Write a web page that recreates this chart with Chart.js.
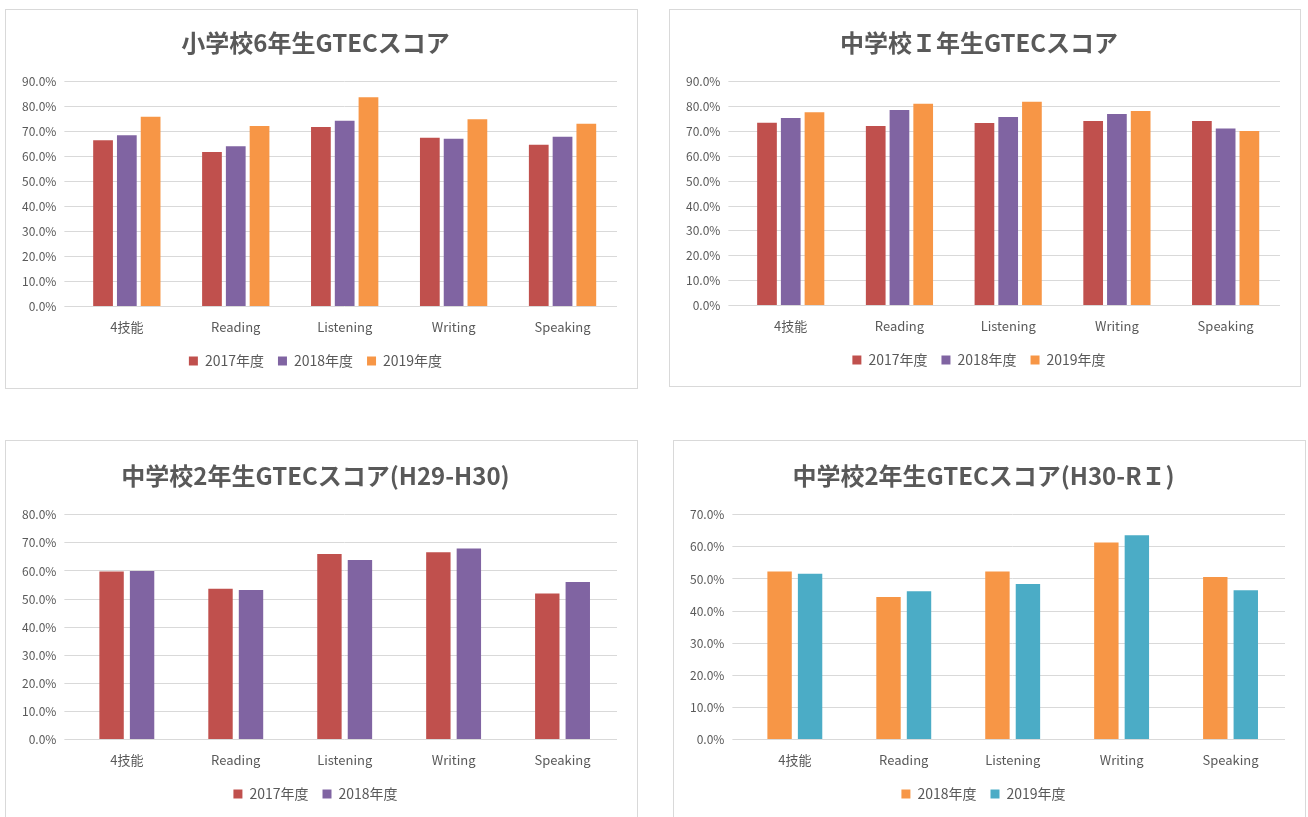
<!DOCTYPE html>
<html>
<head>
<meta charset="utf-8">
<script src="https://cdn.jsdelivr.net/npm/chart.js@4/dist/chart.umd.min.js"></script>
<style>
  body { margin: 0; background: #fff; width: 1308px; height: 817px; overflow: hidden; position: relative; }
  .panel { position: absolute; border: 1px solid #d9d9d9; background: #fff; box-sizing: border-box; }
  #p1 { left: 5px; top: 9px; width: 633px; height: 380px; }
  #p2 { left: 669px; top: 9px; width: 632px; height: 378px; }
  #p3 { left: 5px; top: 440px; width: 633px; height: 390px; }
  #p4 { left: 673px; top: 440px; width: 633px; height: 390px; }
</style>
</head>
<body>
<div class="panel" id="p1"><canvas id="c1"></canvas></div>
<div class="panel" id="p2"><canvas id="c2"></canvas></div>
<div class="panel" id="p3"><canvas id="c3"></canvas></div>
<div class="panel" id="p4"><canvas id="c4"></canvas></div>
<script>
// categories / tick labels
var categories = ["4技能", "Reading", "Listening", "Writing", "Speaking"];

// 小学校6年生
var sho6_2017 = [66.6, 61.9, 71.9, 67.6, 64.8];
var sho6_2018 = [68.6, 64.2, 74.4, 67.2, 68.0];
var sho6_2019 = [76.0, 72.3, 83.8, 75.0, 73.2];

// 中学校1年生
var chu1_2017 = [73.5, 72.2, 73.4, 74.2, 74.2];
var chu1_2018 = [75.4, 78.6, 75.8, 77.0, 71.2];
var chu1_2019 = [77.7, 81.2, 82.0, 78.2, 70.2];

// 中学校2年生 (H29-H30)
var chu2a_2017 = [59.8, 53.7, 66.0, 66.7, 52.0];
var chu2a_2018 = [60.0, 53.2, 63.9, 68.0, 56.1];

// 中学校2年生 (H30-R1)
var chu2b_2018 = [52.3, 44.4, 52.3, 61.4, 50.6];
var chu2b_2019 = [51.6, 46.2, 48.4, 63.6, 46.5];

var RED = "#c0504d", PURPLE = "#8064a2", ORANGE = "#f79646", BLUE = "#4bacc6";
var FONT = "'Noto Sans CJK JP', 'Noto Sans', sans-serif";

function ds(label, data, color, barPct) {
    return { label: label, data: data, backgroundColor: color, borderWidth: 0,
             barPercentage: barPct, categoryPercentage: 1 };
}

function makeChart(id, title, datasets, max, catPct, h, topPad) {
    var panel = document.getElementById(id).parentNode;
    var canvas = document.getElementById(id);
    canvas.width = panel.clientWidth;
    canvas.height = h;
    datasets.forEach(function(d){ d.categoryPercentage = catPct; });
    return new Chart(canvas.getContext('2d'), {
        type: 'bar',
        data: { labels: categories, datasets: datasets },
        options: {
            responsive: false,
            animation: false,
            layout: { padding: { left: 8, right: 20, top: topPad, bottom: 8 } },
            plugins: {
                title: { display: true, text: title, color: "#595959",
                         font: { family: FONT, size: 24, weight: 'bold' },
                         padding: { top: 6, bottom: 25 } },
                legend: { position: 'bottom',
                          labels: { boxWidth: 9, boxHeight: 9, color: "#595959",
                                    font: { family: FONT, size: 14 }, padding: 14 } },
                tooltip: { enabled: false }
            },
            scales: {
                x: { grid: { display: false }, border: { display: false },
                     ticks: { color: "#595959", font: { family: FONT, size: 13 }, padding: 5 } },
                y: { min: 0, max: max,
                     grid: { color: "#d9d9d9", lineWidth: 1 },
                     border: { display: false },
                     ticks: { stepSize: 10, color: "#595959", font: { family: FONT, size: 12 },
                              padding: 8,
                              callback: function(v){ return v.toFixed(1) + "%"; } } }
            }
        }
    });
}

makeChart("c1", "小学校6年生GTECスコア", [
    ds("2017年度", sho6_2017, RED, 0.83),
    ds("2018年度", sho6_2018, PURPLE, 0.83),
    ds("2019年度", sho6_2019, ORANGE, 0.83)
], 90, 0.655, 376, 12);

makeChart("c2", "中学校Ｉ年生GTECスコア", [
    ds("2017年度", chu1_2017, RED, 0.83),
    ds("2018年度", chu1_2018, PURPLE, 0.83),
    ds("2019年度", chu1_2019, ORANGE, 0.83)
], 90, 0.655, 375, 12);

makeChart("c3", "中学校2年生GTECスコア(H29-H30)", [
    ds("2017年度", chu2a_2017, RED, 0.8),
    ds("2018年度", chu2a_2018, PURPLE, 0.8)
], 80, 0.56, 378, 14);

makeChart("c4", "中学校2年生GTECスコア(H30-RＩ)", [
    ds("2018年度", chu2b_2018, ORANGE, 0.8),
    ds("2019年度", chu2b_2019, BLUE, 0.8)
], 70, 0.56, 378, 14);
</script>
</body>
</html>
